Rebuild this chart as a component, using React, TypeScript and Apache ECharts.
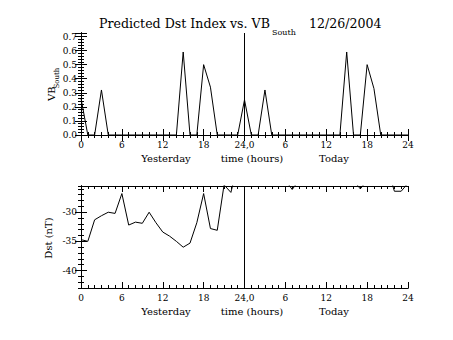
import React, { useEffect, useRef } from "react";
import * as echarts from "echarts";

const hours = [
  0, 1, 2, 3, 4, 5, 6, 7, 8, 9, 10, 11, 12, 13, 14, 15, 16, 17, 18, 19, 20, 21, 22, 23, 24,
  25, 26, 27, 28, 29, 30, 31, 32, 33, 34, 35, 36, 37, 38, 39, 40, 41, 42, 43, 44, 45, 46, 47, 48,
];

const vbSouth = [
  0.26, 0, 0, 0.32, 0, 0, 0, 0, 0, 0, 0, 0, 0, 0, 0, 0.59, 0, 0, 0.5, 0.34, 0, 0, 0, 0, 0.25,
  0, 0, 0.32, 0, 0, 0, 0, 0, 0, 0, 0, 0, 0, 0, 0.59, 0, 0, 0.5, 0.33, 0, 0, 0, 0, 0,
];

const dst = [
  -34.7, -35.0, -31.3, -30.6, -30.0, -30.2, -26.8, -32.2, -31.7, -31.9, -30.0, -31.8, -33.4,
  -34.1, -35.0, -36.0, -35.3, -31.8, -26.8, -32.8, -33.1, -25.3, -26.6, -22.0, -21.0,
  -20.0, -20.0, -21.0, -22.0, -23.0, -24.5, -26.1, -24.5, -23.0, -22.0, -22.0, -23.0, -23.0,
  -24.0, -24.0, -24.5, -26.0, -24.5, -23.0, -23.0, -22.4, -26.4, -26.4, -25.0,
];

const dstMajorTicks = [-40, -35, -30];
const dayNames = ["Yesterday", "Today"];

const FONT = "DejaVu Serif";
const BLACK = "#000";

function xAxes(grid: number) {
  const base = {
    gridIndex: grid,
    type: "value" as const,
    min: 0,
    max: 48,
    axisLine: { show: true, lineStyle: { color: BLACK, width: 1 } },
    splitLine: { show: false },
  };
  const major = { ...base, interval: 6, axisTick: { show: true, inside: true, length: 6, lineStyle: { color: BLACK } } };
  const minor = { ...base, interval: 1, axisTick: { show: true, inside: true, length: 3, lineStyle: { color: BLACK } }, axisLabel: { show: false } };
  return [
    {
      ...major,
      position: "bottom",
      axisLabel: {
        show: true,
        color: BLACK,
        fontFamily: FONT,
        fontSize: 9,
        margin: 5,
        formatter: (v: number) => (v === 24 ? "24,0" : String(v > 24 ? v - 24 : v)),
      },
    },
    { ...major, position: "top", axisLabel: { show: false } },
    { ...minor, position: "bottom" },
    { ...minor, position: "top" },
  ];
}

export default function App() {
  const ref = useRef<HTMLDivElement>(null);
  useEffect(() => {
    if (!ref.current) return;
    const chart = echarts.init(ref.current, undefined, { renderer: "svg" });
    const tickCommon = {
      axisLine: { show: true, lineStyle: { color: BLACK, width: 1 } },
      splitLine: { show: false },
    };
    const vbAxis = (pos: string, labels: boolean, minor: boolean) => ({
      gridIndex: 0,
      type: "value",
      position: pos,
      min: 0,
      max: 0.725,
      interval: minor ? 0.02 : 0.1,
      ...tickCommon,
      axisTick: { show: true, inside: true, length: minor ? 3 : 6, lineStyle: { color: BLACK } },
      axisLabel: {
        show: labels,
        color: BLACK,
        fontFamily: FONT,
        fontSize: 9,
        margin: 4,
        formatter: (v: number) => (v > 0.71 ? "" : v.toFixed(1)),
      },
    });
    const dstMinor = (pos: string) => ({
      gridIndex: 1,
      type: "value",
      position: pos,
      min: -43,
      max: -25.5,
      interval: 1,
      ...tickCommon,
      axisTick: { show: true, inside: true, length: 3, lineStyle: { color: BLACK } },
      axisLabel: { show: false },
    });
    const dstMajor = (pos: string, labels: boolean) => ({
      gridIndex: 1,
      type: "value",
      position: pos,
      min: -43,
      max: -25.5,
      interval: 1,
      ...tickCommon,
      axisTick: {
        show: true,
        inside: true,
        length: 6,
        customValues: dstMajorTicks,
        lineStyle: { color: BLACK },
      },
      axisLabel: {
        show: labels,
        customValues: dstMajorTicks,
        color: BLACK,
        fontFamily: FONT,
        fontSize: 9,
        margin: 4,
      },
    });
    const markLine = {
      silent: true,
      symbol: ["none", "none"],
      label: { show: false },
      lineStyle: { color: BLACK, width: 1, type: "solid" },
      data: [{ xAxis: 24 }],
    };
    const txt = (x: number, y: number, text: string, size: number, align = "left") => ({
      type: "text",
      x,
      y,
      style: {
        text,
        fill: BLACK,
        font: `${size}px "${FONT}"`,
        textAlign: align,
        textVerticalAlign: "middle",
      },
    });
    chart.setOption({
      animation: false,
      backgroundColor: "#fff",
      grid: [
        { left: 81, top: 33, width: 327, height: 102 },
        { left: 81, top: 186, width: 327, height: 102 },
      ],
      xAxis: [...xAxes(0), ...xAxes(1)],
      yAxis: [
        vbAxis("left", true, false),
        vbAxis("right", false, false),
        vbAxis("left", false, true),
        vbAxis("right", false, true),
        dstMinor("left"),
        dstMajor("left", true),
        dstMinor("right"),
        dstMajor("right", false),
      ],
      series: [
        {
          type: "line",
          xAxisIndex: 0,
          yAxisIndex: 0,
          data: hours.map((h, i) => [h, vbSouth[i]]),
          symbol: "none",
          clip: true,
          lineStyle: { color: BLACK, width: 1 },
          markLine,
        },
        {
          type: "line",
          xAxisIndex: 4,
          yAxisIndex: 4,
          data: hours.map((h, i) => [h, dst[i]]),
          symbol: "none",
          clip: true,
          lineStyle: { color: BLACK, width: 1 },
          markLine,
        },
      ],
      graphic: [
        txt(99, 23, "Predicted Dst Index vs. VB", 12.6),
        txt(272, 32, "South", 8),
        txt(309, 23, "12/26/2004", 12.6),
        txt(166, 158, dayNames[0], 10, "center"),
        txt(252, 158, "time (hours)", 10, "center"),
        txt(334, 158, dayNames[1], 10, "center"),
        txt(166, 311, dayNames[0], 10, "center"),
        txt(252, 311, "time (hours)", 10, "center"),
        txt(334, 311, dayNames[1], 10, "center"),
        {
          type: "group",
          x: 51,
          y: 101,
          rotation: Math.PI / 2,
          children: [txt(0, 0, "VB", 10), txt(12.5, 6, "South", 7)],
        },
        {
          type: "group",
          x: 48,
          y: 238,
          rotation: Math.PI / 2,
          children: [txt(0, 0, "Dst (nT)", 10, "center")],
        },
      ],
    });
    return () => chart.dispose();
  }, []);
  return (
    <div
      ref={ref}
      style={{ position: "fixed", left: 0, top: 0, width: 453, height: 340 }}
    />
  );
}
